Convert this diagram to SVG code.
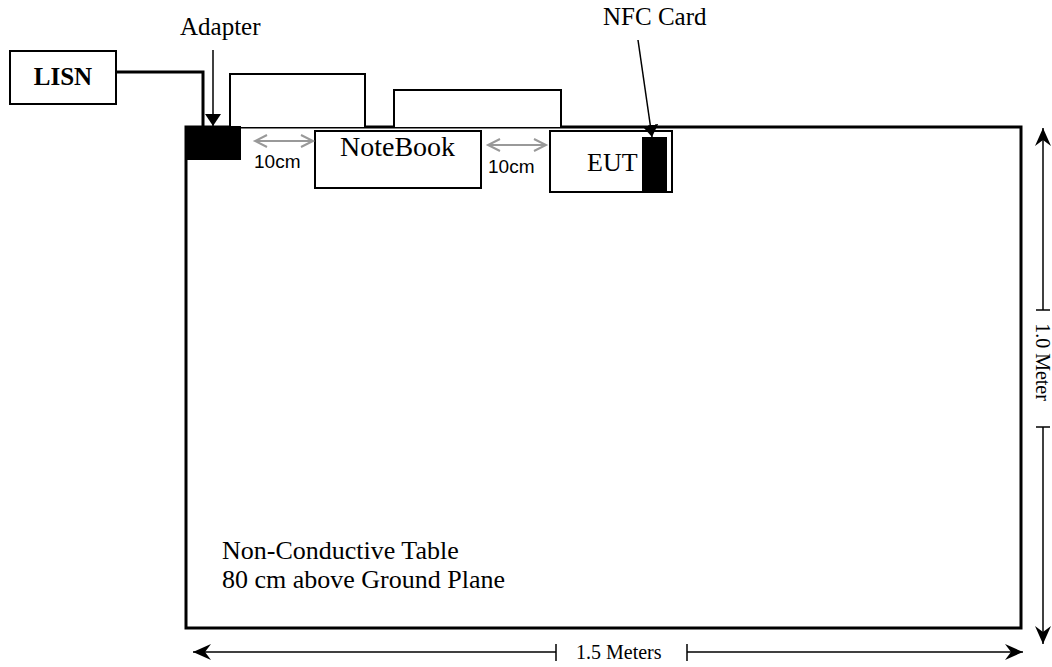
<svg xmlns="http://www.w3.org/2000/svg" width="1052" height="667" viewBox="0 0 1052 667">
<defs>
<marker id="ah" viewBox="0 0 12 16" refX="12" refY="8" markerWidth="12" markerHeight="16" markerUnits="userSpaceOnUse" orient="auto"><path d="M0,0 L12,8 L0,16 z" fill="#000"/></marker>
<marker id="open" viewBox="0 0 20 20" refX="19" refY="10" markerWidth="20" markerHeight="20" markerUnits="userSpaceOnUse" orient="auto"><path d="M1,2 L19,10 L1,18 L7,10 z" fill="#000"/></marker>
</defs>
<style>
.box{fill:#fff;stroke:#000;stroke-width:2}
.t{font-family:"Liberation Serif",serif;fill:#000}
.s{font-family:"Liberation Sans",sans-serif;fill:#000;font-size:19px}
.dim{stroke:#000;stroke-width:1.5;fill:none}
.g{fill:none;stroke:#999;stroke-width:2}
</style>
<rect width="1052" height="667" fill="#fff"/>
<g id="table">
<rect x="186" y="127" width="835" height="501" fill="none" stroke="#000" stroke-width="3"/>
<text class="t" x="222" y="559" font-size="26">Non-Conductive Table</text>
<text class="t" x="222" y="588" font-size="26">80 cm above Ground Plane</text>
</g>
<g id="monitor1"><path d="M230,127 V74 H365 V127" class="box" fill="none"/></g>
<g id="monitor2"><path d="M394,127 V90 H561 V127" class="box" fill="none"/></g>
<g id="lisn">
<rect x="10" y="51" width="106" height="53" class="box"/>
<text class="t" x="63" y="85" font-size="25" font-weight="bold" text-anchor="middle">LISN</text>
</g>
<g id="adapter">
<rect x="185" y="126" width="56" height="34" fill="#000"/>
<text class="t" x="180" y="35" font-size="25">Adapter</text>
</g>
<g id="notebook">
<rect x="315" y="131" width="166" height="57" class="box"/>
<text class="t" x="340" y="156" font-size="28">NoteBook</text>
</g>
<g id="eut">
<rect x="550" y="131" width="122" height="61" class="box"/>
<text class="t" x="587" y="171" font-size="26">EUT</text>
</g>
<g id="nfc">
<rect x="642" y="137" width="25" height="55" fill="#000"/>
<text class="t" x="603" y="25" font-size="25">NFC Card</text>
</g>
<g id="connectors">
<path d="M116,72 H203 V127" fill="none" stroke="#000" stroke-width="3"/>
<line x1="213" y1="50" x2="213" y2="126" stroke="#000" stroke-width="1.5" marker-end="url(#ah)"/>
<line x1="638" y1="40" x2="652" y2="137" stroke="#000" stroke-width="1.5" marker-end="url(#ah)"/>
<line x1="255" y1="141" x2="313" y2="141" class="g"/>
<path d="M267,135 L255,141 L267,147" class="g"/>
<path d="M301,135 L313,141 L301,147" class="g"/>
<text class="s" x="254" y="168">10cm</text>
<line x1="488" y1="145" x2="546" y2="145" class="g"/>
<path d="M500,139 L488,145 L500,151" class="g"/>
<path d="M534,139 L546,145 L534,151" class="g"/>
<text class="s" x="488" y="173">10cm</text>
<line x1="1043" y1="310" x2="1043" y2="128" class="dim" marker-end="url(#open)"/>
<line x1="1043" y1="427" x2="1043" y2="644" class="dim" marker-end="url(#open)"/>
<line x1="1036" y1="310" x2="1050" y2="310" class="dim"/>
<line x1="1036" y1="427" x2="1050" y2="427" class="dim"/>
<text class="t" font-size="20" text-anchor="middle" transform="translate(1036,362) rotate(90)">1.0 Meter</text>
<line x1="556" y1="652" x2="193" y2="652" class="dim" marker-end="url(#open)"/>
<line x1="687" y1="652" x2="1023" y2="652" class="dim" marker-end="url(#open)"/>
<line x1="556" y1="644" x2="556" y2="661" class="dim"/>
<line x1="687" y1="644" x2="687" y2="661" class="dim"/>
<text class="t" x="576" y="659" font-size="20">1.5 Meters</text>
</g>
</svg>
